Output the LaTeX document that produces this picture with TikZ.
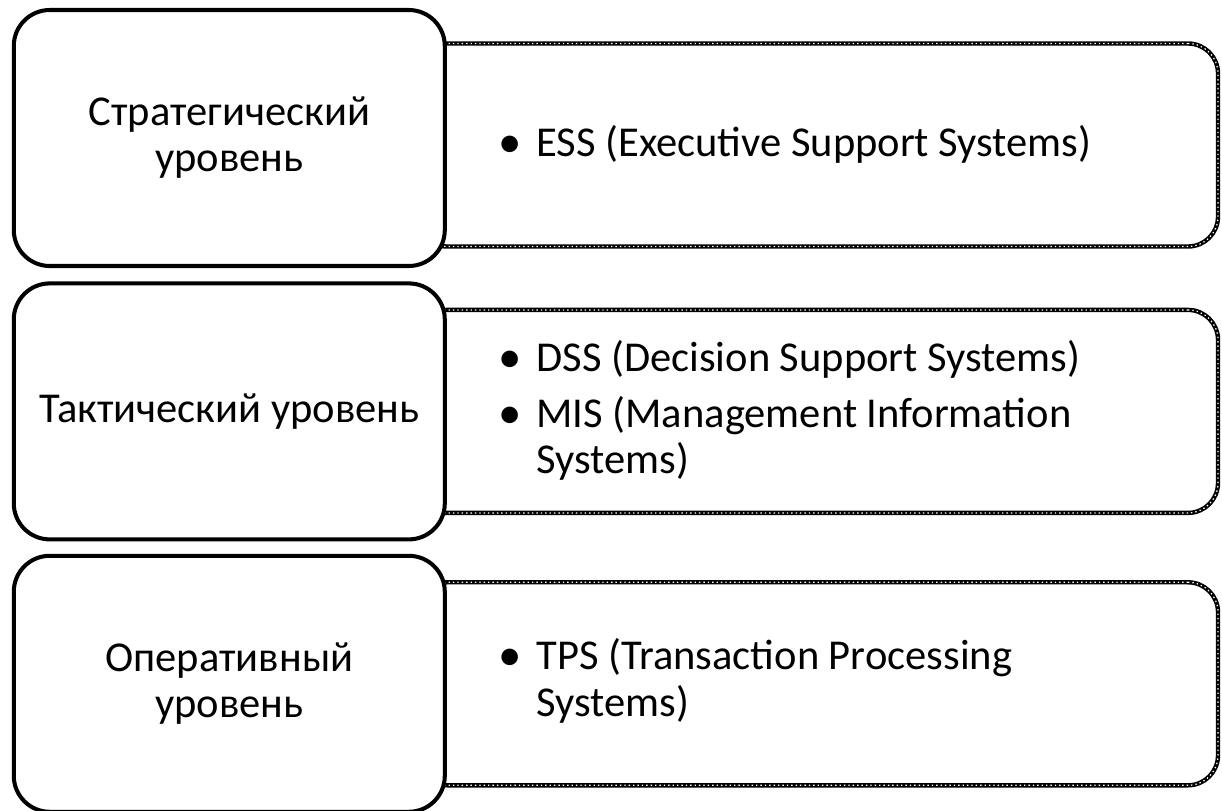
\documentclass[tikz,border=0pt]{standalone}
\usepackage{fontspec}
\setmainfont{Carlito}
\usetikzlibrary{positioning}

\newcommand{\sysbullet}{\raisebox{-0.02em}{\scalebox{1.1}{•}}}
\newcommand{\syslist}[1]{\begin{tabular}{@{}p{0.38cm}@{}l@{}}#1\end{tabular}}

\begin{document}
\begin{tikzpicture}[
	node distance=0.6cm,
	level/.style={
		align=center,
		rectangle,
		draw,
		fill=white,
		line width=1.15pt,
		rounded corners=0.36cm,
		minimum width=4.31cm,
		minimum height=2.56cm,
		font=\fontsize{12.1}{13.1}\selectfont
	},
	systems/.style={
		rectangle,
		draw,
		line width=1.25pt,
		rounded corners=0.3cm,
		minimum width=8.01cm,
		minimum height=2.03cm,
		postaction={draw=white, line width=0.35pt, dash pattern=on 0.4pt off 0.85pt}
	},
	list/.style={
		anchor=west,
		inner sep=0pt,
		font=\fontsize{12.1}{13.2}\selectfont
	}
	]
	\useasboundingbox (0,0) rectangle (12.22,8.10);
	
	% system boxes
	\node (ess) [systems] at (8.175,6.65) {};
	\node (dss) [systems, below=0.59cm of ess] {};
	\node (tps) [systems, below=0.65cm of dss] {};
	
	% system lists
	\node (ess_list) [list, yshift=-0.02cm] at ([xshift=0.83cm]ess.west) {\syslist{\sysbullet & ESS (Executive Support Systems)}};
	\node (dss_list) [list, yshift=-0.02cm] at ([xshift=0.83cm]dss.west) {\syslist{\sysbullet & DSS (Decision Support Systems)\\[0.09cm]
		\sysbullet & MIS (Management Information\\ & Systems)}};
	\node (tps_list) [list] at ([xshift=0.83cm]tps.west) {\syslist{\sysbullet & TPS (Transaction Processing\\ & Systems)}};
	
	% levels
	\node (strat) [level, left=-0.32cm of ess, yshift=0.07cm] {Стратегический\\уровень};
	\node (takt) [level, left=-0.32cm of dss] {Тактический уровень};
	\node (oper) [level, left=-0.32cm of tps] {Оперативный\\уровень};
	
\end{tikzpicture}
\end{document}
